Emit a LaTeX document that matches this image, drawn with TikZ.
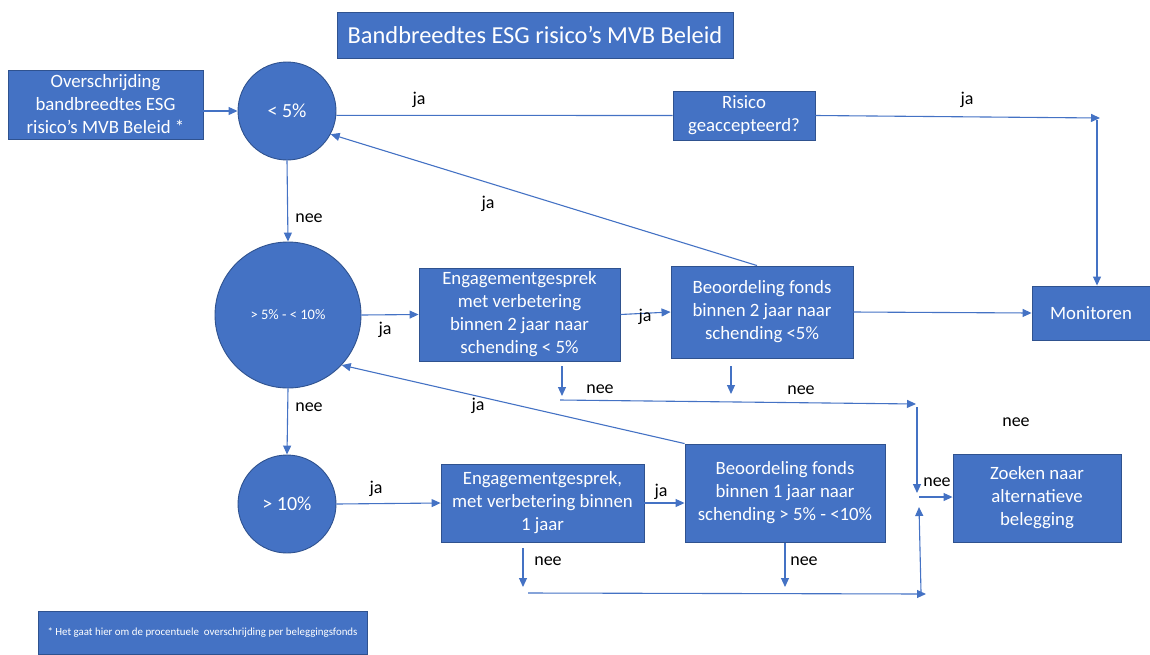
\documentclass[tikz,border=0pt]{standalone}
\usepackage{fontspec}
\setmainfont{Carlito}
\usetikzlibrary{arrows.meta}
\definecolor{boxfill}{HTML}{4472C4}
\definecolor{boxline}{HTML}{2F528F}
\definecolor{conline}{HTML}{4472C4}
\tikzset{
  box/.style={draw=boxline, fill=boxfill, text=white, align=center, inner sep=0pt, line width=0.9pt,
    font=\fontsize{18.8}{23}\selectfont},
  circ/.style={circle, draw=boxline, fill=boxfill, text=white, inner sep=0pt, line width=0.9pt,
    font=\fontsize{20}{22}\selectfont},
  conn/.style={draw=conline, line width=1.1pt, -{Triangle[length=9pt,width=8pt]}},
  plain/.style={draw=conline, line width=1.1pt},
  lbl/.style={text=black, inner sep=0pt, font=\fontsize{18}{20}\selectfont}
}
\begin{document}
\begin{tikzpicture}[x=1pt,y=-1pt]
\useasboundingbox (0,0) rectangle (1150,654);
% title
\node[box, minimum width=396pt, minimum height=46pt, font=\fontsize{24.4}{26}\selectfont] (title) at (535,35) {Bandbreedtes ESG risico’s MVB Beleid};
% nodes
\node[box, minimum width=195pt, minimum height=69pt] (a) at (105.5,104.5) {Overschrijding\\bandbreedtes ESG\\risico’s MVB Beleid *};
\node[circ, minimum size=98pt] (c1) at (287,111) {< 5\%};
\node[box, minimum width=142pt, minimum height=49pt] (risk) at (744,115.5) {Risico\\geaccepteerd?};
\node[box, minimum width=118pt, minimum height=54pt] (mon) at (1091,313) {Monitoren};
\node[circ, minimum size=146pt, font=\fontsize{14.5}{16}\selectfont] (c2) at (288,315) {> 5\% - < 10\%};
\node[box, minimum width=201pt, minimum height=93pt] (e1) at (519.5,314.5) {Engagementgesprek\\met verbetering\\binnen 2 jaar naar\\schending < 5\%};
\node[box, minimum width=182pt, minimum height=92pt] (b1) at (762,312) {Beoordeling fonds\\binnen 2 jaar naar\\schending <5\%};
\node[circ, minimum size=98pt] (c3) at (287,504) {> 10\%};
\node[box, minimum width=203pt, minimum height=78pt] (e2) at (542.5,503) {Engagementgesprek,\\met verbetering binnen\\1 jaar};
\node[box, minimum width=200pt, minimum height=98pt] (b2) at (785,493) {Beoordeling fonds\\binnen 1 jaar naar\\schending > 5\% - <10\%};
\node[box, minimum width=168pt, minimum height=88pt] (z) at (1037,498) {Zoeken naar\\alternatieve\\belegging};
\node[box, minimum width=329pt, minimum height=43pt, font=\fontsize{10.9}{12}\selectfont] (foot) at (202.5,632.5) {* Het gaat hier om de procentuele\ \ overschrijding per beleggingsfonds};
% free coordinates
\coordinate (r1) at (1100,118);
\coordinate (r1v) at (1097,120);
\coordinate (n1a) at (562,366);
\coordinate (n1b) at (562,396);
\coordinate (n2a) at (731,366);
\coordinate (n2b) at (731,394);
\coordinate (h1a) at (560,400);
\coordinate (h1b) at (916,404);
\coordinate (v1a) at (917,407);
\coordinate (v1b) at (917,493);
\coordinate (za) at (919,497);
\coordinate (n3a) at (523,548);
\coordinate (n3b) at (523,587);
\coordinate (n4a) at (785,543);
\coordinate (n4b) at (785,587);
\coordinate (h2a) at (528,593);
\coordinate (h2b) at (926,594);
\coordinate (v2a) at (921,592);
\coordinate (v2b) at (919,507);
% connectors
\draw[conn] (a.east |- c1.west) -- (c1.west);
\draw[plain] (c1.-5) -- (risk.west);
\draw[conn] (risk.east) -- (r1);
\draw[conn] (r1v) -- (r1v |- mon.north);
\draw[conn] (c1.south) -- (c2.north);
\draw[conn] (c2.east) -- (e1.west);
\draw[conn] (e1.east) -- (b1.west);
\draw[conn] (b1.east) -- (mon.west);
\draw[conn] ([xshift=-5pt]b1.north) -- (c1.-28);
\draw[conn] (c2.south) -- (c3.north);
\draw[conn] (c3.east) -- (e2.west);
\draw[conn] (e2.east) -- (e2.east -| b2.west);
\draw[conn] (b2.north west) -- (c2.-43);
\draw[conn] (n1a) -- (n1b);
\draw[conn] (n2a) -- (n2b);
\draw[conn] (h1a) -- (h1b);
\draw[conn] (v1a) -- (v1b);
\draw[conn] (za) -- (za -| z.west);
\draw[conn] (n3a) -- (n3b);
\draw[conn] (n4a) -- (n4b);
\draw[conn] (h2a) -- (h2b);
\draw[conn] (v2a) -- (v2b);
% labels
\node[lbl] (l1) at (419,100) {ja};
\node[lbl] (l2) at (967,100) {ja};
\node[lbl] (l3) at (309,218) {nee};
\node[lbl] (l4) at (488,204) {ja};
\node[lbl] (l5) at (385,330) {ja};
\node[lbl] (l6) at (645,317) {ja};
\node[lbl] (l7) at (600,389) {nee};
\node[lbl] (l8) at (801,390) {nee};
\node[lbl] (l9) at (1016,422) {nee};
\node[lbl] (l10) at (937,482) {nee};
\node[lbl] (l11) at (309,407) {nee};
\node[lbl] (l12) at (478,406) {ja};
\node[lbl] (l13) at (376,489) {ja};
\node[lbl] (l14) at (661,492) {ja};
\node[lbl] (l15) at (548,561) {nee};
\node[lbl] (l16) at (804,561) {nee};
\end{tikzpicture}
\end{document}
